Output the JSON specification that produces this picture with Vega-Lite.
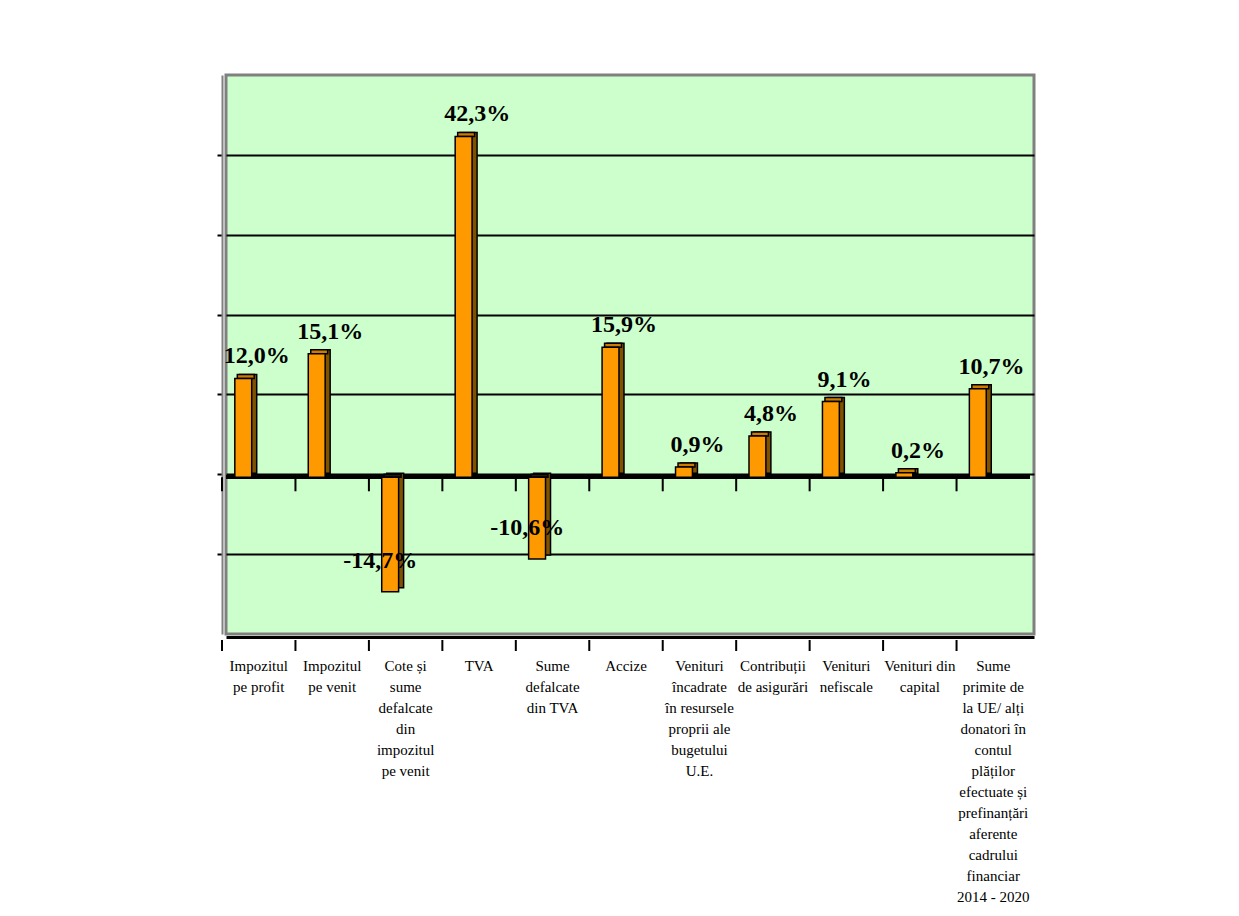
{
  "$schema": "https://vega.github.io/schema/vega-lite/v6.json",
  "width": 808,
  "height": 559,
  "autosize": "none",
  "padding": {"left": 226, "top": 75, "right": 205, "bottom": 282},
  "background": "white",
  "data": {
    "values": [
      {"cat": "Impozitul\npe profit", "value": 12.0, "label": "12,0%"},
      {"cat": "Impozitul\npe venit", "value": 15.1, "label": "15,1%"},
      {"cat": "Cote și\nsume\ndefalcate\ndin\nimpozitul\npe venit", "value": -14.7, "label": "-14,7%"},
      {"cat": "TVA", "value": 42.3, "label": "42,3%"},
      {"cat": "Sume\ndefalcate\ndin TVA", "value": -10.6, "label": "-10,6%"},
      {"cat": "Accize", "value": 15.9, "label": "15,9%"},
      {"cat": "Venituri\nîncadrate\nîn resursele\nproprii ale\nbugetului\nU.E.", "value": 0.9, "label": "0,9%"},
      {"cat": "Contribuții\nde asigurări", "value": 4.8, "label": "4,8%"},
      {"cat": "Venituri\nnefiscale", "value": 9.1, "label": "9,1%"},
      {"cat": "Venituri din\ncapital", "value": 0.2, "label": "0,2%"},
      {"cat": "Sume\nprimite de\nla UE/ alți\ndonatori în\ncontul\nplăților\nefectuate și\nprefinanțări\naferente\ncadrului\nfinanciar\n2014 - 2020", "value": 10.7, "label": "10,7%"}
    ]
  },
  "layer": [
    {
      "mark": {"type": "rule", "color": "black", "strokeWidth": 2, "xOffset": -4, "yOffset": 6, "y2Offset": 17},
      "encoding": {
        "x": {
          "field": "cat", "type": "nominal", "sort": null, "bandPosition": 0,
          "scale": {"paddingInner": 0, "paddingOuter": 0},
          "axis": {
            "title": null,
            "orient": "bottom",
            "labelExpr": "split(datum.value, '\\n')",
            "labelAngle": 0,
            "labelFont": "Liberation Serif",
            "labelFontSize": 15,
            "labelLineHeight": 21,
            "labelColor": "black",
            "labelPadding": 21,
            "labelOffset": -4,
            "labelLimit": 0,
            "labelBound": false,
            "labelOverlap": false,
            "ticks": false,
            "domainColor": "black",
            "domainWidth": 3,
            "offset": 3
          }
        },
        "y": {
          "datum": -20, "type": "quantitative",
          "scale": {"domain": [-20, 50], "nice": false, "zero": false},
          "axis": {
            "title": null,
            "labels": false,
            "values": [-10, 0, 10, 20, 30, 40],
            "grid": true,
            "gridColor": "black",
            "gridWidth": 2,
            "tickColor": "black",
            "tickSize": 5,
            "tickWidth": 2,
            "domainColor": "#808080",
            "domainWidth": 2,
            "offset": 4
          }
        },
        "y2": {"datum": -20}
      }
    },
    {
      "mark": {"type": "rule", "color": "black", "strokeWidth": 3, "yOffset": 3, "xOffset": -4},
      "encoding": {"y": {"datum": 0, "type": "quantitative"}}
    },
    {
      "mark": {"type": "rule", "color": "black", "strokeWidth": 2, "xOffset": -4, "yOffset": 3, "y2Offset": 17},
      "encoding": {
        "x": {"field": "cat", "type": "nominal", "sort": null, "bandPosition": 0},
        "y": {"datum": 0, "type": "quantitative"},
        "y2": {"datum": 0}
      }
    },
    {
      "mark": {"type": "rect", "fill": "#7F5200", "stroke": "black", "strokeWidth": 1.5, "xOffset": 5, "x2Offset": 5, "yOffset": -4, "y2Offset": -1},
      "encoding": {
        "x": {"field": "cat", "type": "nominal", "sort": null, "bandPosition": 0.12},
        "x2": {"field": "cat", "bandPosition": 0.35},
        "y": {"field": "value", "type": "quantitative"},
        "y2": {"datum": 0}
      }
    },
    {
      "transform": [{"filter": "datum.value > 0"}],
      "mark": {"type": "rect", "fill": "#CC7A00", "stroke": "black", "strokeWidth": 1.5, "xOffset": 2.5, "x2Offset": 2.5, "yOffset": -4, "y2Offset": 0},
      "encoding": {
        "x": {"field": "cat", "type": "nominal", "sort": null, "bandPosition": 0.12},
        "x2": {"field": "cat", "bandPosition": 0.35},
        "y": {"field": "value", "type": "quantitative"},
        "y2": {"field": "value"}
      }
    },
    {
      "transform": [{"filter": "datum.value < 0"}],
      "mark": {"type": "rect", "fill": "#2b1a00", "stroke": "black", "strokeWidth": 1.5, "xOffset": 2.5, "x2Offset": 2.5, "yOffset": 0, "y2Offset": 3},
      "encoding": {
        "x": {"field": "cat", "type": "nominal", "sort": null, "bandPosition": 0.12},
        "x2": {"field": "cat", "bandPosition": 0.35},
        "y": {"datum": 0, "type": "quantitative"},
        "y2": {"datum": 0}
      }
    },
    {
      "mark": {"type": "rect", "fill": "#FF9900", "stroke": "black", "strokeWidth": 1.5, "y2Offset": 3},
      "encoding": {
        "x": {"field": "cat", "type": "nominal", "sort": null, "bandPosition": 0.12},
        "x2": {"field": "cat", "bandPosition": 0.35},
        "y": {"field": "value", "type": "quantitative"},
        "y2": {"datum": 0}
      }
    },
    {
      "transform": [{"filter": "datum.value > 0"}],
      "mark": {"type": "text", "font": "Liberation Serif", "fontWeight": "bold", "fontSize": 24, "color": "black", "baseline": "alphabetic", "dy": -15},
      "encoding": {
        "x": {"field": "cat", "type": "nominal", "sort": null, "bandPosition": 0.42},
        "y": {"field": "value", "type": "quantitative"},
        "text": {"field": "label"}
      }
    },
    {
      "transform": [{"filter": "datum.value < 0"}],
      "mark": {"type": "text", "font": "Liberation Serif", "fontWeight": "bold", "fontSize": 24, "color": "black", "baseline": "alphabetic", "dy": -24},
      "encoding": {
        "x": {"field": "cat", "type": "nominal", "sort": null, "bandPosition": 0.1},
        "y": {"field": "value", "type": "quantitative"},
        "text": {"field": "label"}
      }
    }
  ],
  "config": {
    "view": {"fill": "#CCFFCC", "stroke": "#808080", "strokeWidth": 3}
  }
}
